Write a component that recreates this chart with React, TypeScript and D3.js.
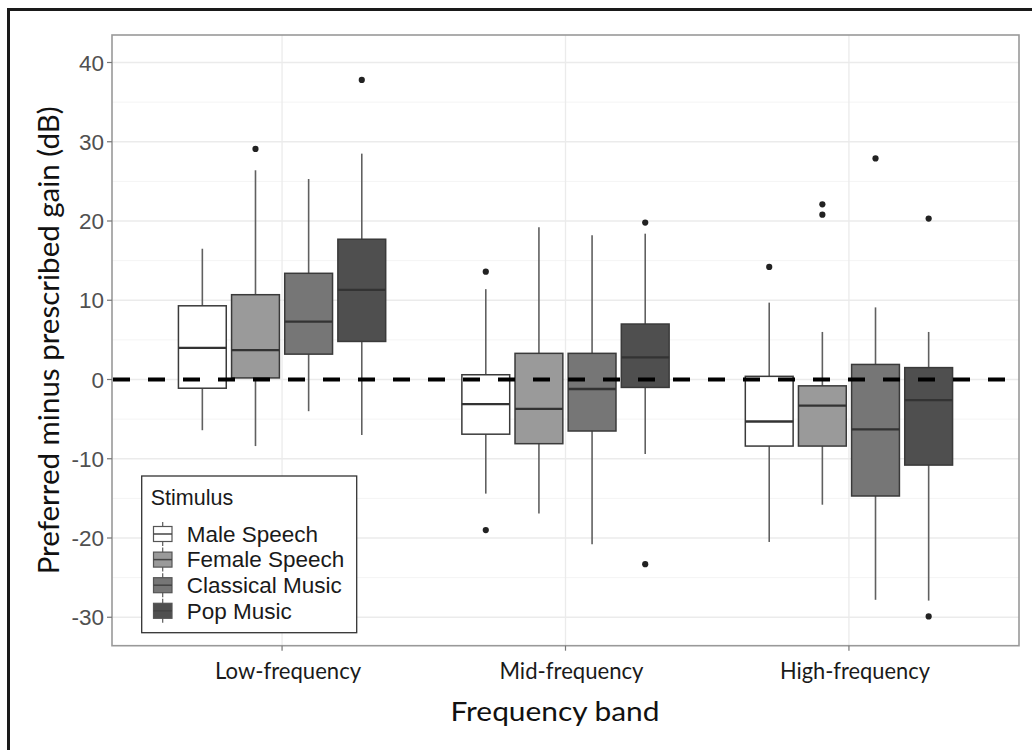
import React from 'react';
import * as d3 from 'd3';

const W = 1032, H = 750;
const PANEL = { left: 112, right: 1019, top: 35, bottom: 645.7 };

const bands = ['Low-frequency', 'Mid-frequency', 'High-frequency'];
const stimuli = ['Male Speech', 'Female Speech', 'Classical Music', 'Pop Music'];
const fills = ['#ffffff', '#9a9a9a', '#767676', '#4f4f4f'];
const yTicks = [-30, -20, -10, 0, 10, 20, 30, 40];
const yMinor = [-25, -15, -5, 5, 15, 25, 35];

// rows = band, columns = stimulus
const lowerWhisker = [
  [-6.4, -8.4, -4.0, -7.0],
  [-14.4, -16.9, -20.8, -9.4],
  [-20.5, -15.8, -27.8, -27.9],
];
const q1 = [
  [-1.1, 0.2, 3.2, 4.8],
  [-6.9, -8.1, -6.5, -1.0],
  [-8.4, -8.4, -14.7, -10.8],
];
const median = [
  [4.0, 3.7, 7.3, 11.3],
  [-3.1, -3.7, -1.2, 2.8],
  [-5.3, -3.3, -6.3, -2.6],
];
const q3 = [
  [9.3, 10.7, 13.4, 17.7],
  [0.6, 3.3, 3.3, 7.0],
  [0.4, -0.8, 1.9, 1.5],
];
const upperWhisker = [
  [16.5, 26.4, 25.3, 28.5],
  [11.4, 19.2, 18.2, 18.4],
  [9.7, 6.0, 9.1, 6.0],
];
const outliers = [
  [[], [29.1], [], [37.8]],
  [[13.6, -19.0], [], [], [19.8, -23.3]],
  [[14.2], [22.1, 20.8], [27.9], [20.3, -29.9]],
];

const CAL = "Lato, 'Open Sans', sans-serif";
const ARIAL = "'Liberation Sans', Arial, sans-serif";

export default function App() {
  const x = d3.scaleLinear().domain([-0.6, bands.length - 1 + 0.6]).range([PANEL.left, PANEL.right]);
  const y = d3.scaleLinear().domain([-33.59, 43.47]).range([PANEL.bottom, PANEL.top]);
  const slot = 0.75 / stimuli.length;
  const bw = x(slot * 0.9) - x(0);
  const cx = (b: number, s: number) => x(b + (s - (stimuli.length - 1) / 2) * slot);

  const boxes: any[] = [];
  bands.forEach((_, b) => {
    stimuli.forEach((_, s) => {
      const c = cx(b, s);
      boxes.push(
        <g key={`${b}-${s}`}>
          <line x1={c} x2={c} y1={y(q3[b][s])} y2={y(upperWhisker[b][s])} stroke="#606060" strokeWidth={1.6} />
          <line x1={c} x2={c} y1={y(q1[b][s])} y2={y(lowerWhisker[b][s])} stroke="#606060" strokeWidth={1.6} />
          <rect x={c - bw / 2} y={y(q3[b][s])} width={bw} height={y(q1[b][s]) - y(q3[b][s])}
            fill={fills[s]} stroke="#3a3a3a" strokeWidth={1.5} />
          <line x1={c - bw / 2} x2={c + bw / 2} y1={y(median[b][s])} y2={y(median[b][s])} stroke="#333" strokeWidth={2.3} />
          {outliers[b][s].map((v, i) => (
            <circle key={i} cx={c} cy={y(v)} r={3.1} fill="#222" />
          ))}
        </g>
      );
    });
  });

  const legendTop = 476, legendLeft = 141.7;
  const keyY = (i: number) => legendTop + 58 + i * 25.6;

  return (
    <svg width={W} height={H} style={{ position: 'absolute', left: 0, top: 0, display: 'block', background: '#fff' }}>
      <rect x={0} y={0} width={W} height={H} fill="#fff" />
      <rect x={8.5} y={9.5} width={1200} height={1000} fill="none" stroke="#1a1a1a" strokeWidth={3} />

      {/* grid */}
      {yMinor.map(v => (
        <line key={'m' + v} x1={PANEL.left} x2={PANEL.right} y1={y(v)} y2={y(v)} stroke="#f4f4f4" strokeWidth={1} />
      ))}
      {yTicks.map(v => (
        <line key={'g' + v} x1={PANEL.left} x2={PANEL.right} y1={y(v)} y2={y(v)} stroke="#ebebeb" strokeWidth={1.3} />
      ))}
      {bands.map((_, b) => (
        <line key={'v' + b} x1={x(b)} x2={x(b)} y1={PANEL.top} y2={PANEL.bottom} stroke="#ebebeb" strokeWidth={1.3} />
      ))}

      {boxes}

      <line x1={PANEL.left + 1} x2={PANEL.right} y1={y(0)} y2={y(0)} stroke="#000" strokeWidth={4} strokeDasharray="17 18" />

      <rect x={PANEL.left} y={PANEL.top} width={PANEL.right - PANEL.left} height={PANEL.bottom - PANEL.top}
        fill="none" stroke="#999" strokeWidth={1.6} />

      {/* y axis */}
      {yTicks.map(v => (
        <g key={'t' + v}>
          <line x1={PANEL.left - 5} x2={PANEL.left} y1={y(v)} y2={y(v)} stroke="#777" strokeWidth={1.2} />
          <text x={104} y={y(v)} dy="0.36em" textAnchor="end" fontFamily={ARIAL} fontSize={22.5} fill="#505050">{v}</text>
        </g>
      ))}
      <text transform={`translate(59,${(PANEL.top + PANEL.bottom) / 2}) rotate(-90)`} textAnchor="middle"
        fontFamily={CAL} fontSize={28.5} fill="#111" textLength={468} lengthAdjust="spacingAndGlyphs">
        Preferred minus prescribed gain (dB)
      </text>

      {/* x axis */}
      {bands.map((name, b) => (
        <g key={'x' + b}>
          <line x1={x(b)} x2={x(b)} y1={PANEL.bottom} y2={PANEL.bottom + 5} stroke="#777" strokeWidth={1.2} />
          <text x={x(b) + 6} y={679} textAnchor="middle" fontFamily={CAL} fontSize={22.5} fill="#1a1a1a"
            textLength={[146, 144, 150][b]} lengthAdjust="spacingAndGlyphs">{name}</text>
        </g>
      ))}
      <text x={555} y={721} textAnchor="middle" fontFamily={CAL} fontSize={27.5} fill="#111"
        textLength={209} lengthAdjust="spacingAndGlyphs">Frequency band</text>

      {/* legend */}
      <rect x={legendLeft} y={legendTop} width={215} height={156.7} fill="#fff" stroke="#333" strokeWidth={1.3} />
      <text x={150.7} y={505} fontFamily={ARIAL} fontSize={21.5} fill="#1a1a1a">Stimulus</text>
      {stimuli.map((name, i) => {
        const ky = keyY(i);
        return (
          <g key={'l' + i}>
            <line x1={162.7} x2={162.7} y1={ky - 12} y2={ky + 12} stroke="#5a5a5a" strokeWidth={1.2} />
            <rect x={153.5} y={ky - 7.5} width={18.5} height={15} fill={fills[i]} stroke="#555" strokeWidth={1.2} />
            <line x1={153.5} x2={172} y1={ky} y2={ky} stroke="#444" strokeWidth={1.5} />
            <text x={186.7} y={ky + 7.8} fontFamily={ARIAL} fontSize={22.5} fill="#1a1a1a">{name}</text>
          </g>
        );
      })}
    </svg>
  );
}
